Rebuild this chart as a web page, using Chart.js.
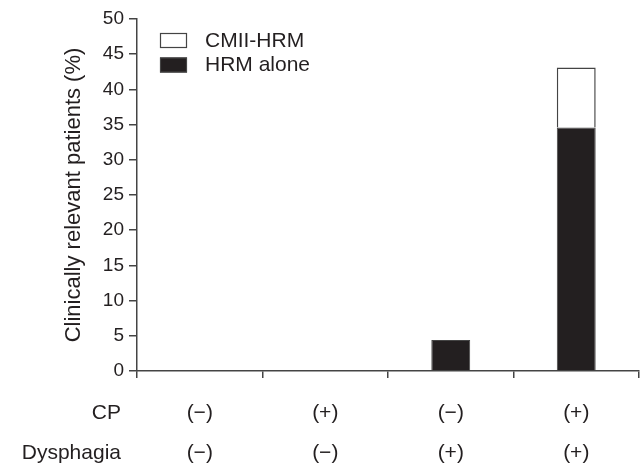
<!DOCTYPE html>
<html>
<head>
<meta charset="utf-8">
<script src="https://cdn.jsdelivr.net/npm/chart.js@4"></script>
<style>
  body { margin: 0; background: #fff; }
  #wrap { width: 641px; height: 467px; }
</style>
</head>
<body>
<div id="wrap"><canvas id="chart"></canvas></div>
<script>
'use strict'

// datos
const cpLabels = ['(\u2212)', '(+)', '(\u2212)', '(+)'];
const dysphagiaLabels = ['(\u2212)', '(\u2212)', '(+)', '(+)'];
const rowNames = ['CP', 'Dysphagia'];
const hrmAlone = [0, 0, 4.4, 34.6];
const cmiiHrm = [0, 0, 0, 8.5];
const yTicks = [0, 5, 10, 15, 20, 25, 30, 35, 40, 45, 50];

const textColor = '#231f20';
const axisColor = '#444';
const fontFamily = '"Liberation Sans", Arial, sans-serif';
const textSize = 21;

// leyenda dentro del area y nombres de filas del eje x
const extras =
{
  id: 'extras',
  afterDraw( chart )
  {
    const ctx = chart.ctx;
    ctx.save();
    ctx.font = textSize + 'px ' + fontFamily;
    ctx.fillStyle = textColor;
    ctx.textBaseline = 'middle';

    // filas CP / Dysphagia
    ctx.textAlign = 'right';
    const rowY = [413, 453];
    rowNames.forEach( ( name, i ) => ctx.fillText( name, 121, rowY[i] ) );

    // leyenda
    const items = [ chart.data.datasets[1], chart.data.datasets[0] ];
    ctx.textAlign = 'left';
    items.forEach( ( ds, i ) =>
    {
      const top = 33 + i * 24.5;
      ctx.fillStyle = ds.backgroundColor;
      ctx.fillRect( 160, top, 27, 15 );
      ctx.strokeStyle = axisColor;
      ctx.lineWidth = 1.2;
      ctx.strokeRect( 160.5, top + 0.5, 26, 14 );
      ctx.fillStyle = textColor;
      ctx.fillText( ds.label, 205, top + 8 );
    });
    ctx.restore();
  }
};

const ctx = document.getElementById('chart').getContext('2d');
new Chart(ctx,
{
  type: 'bar',
  data:
  {
    labels: cpLabels.map( ( c, i ) => [ c, dysphagiaLabels[i] ] ),
    datasets:
    [
      {
        label: 'HRM alone',
        data: hrmAlone,
        backgroundColor: '#231f20',
        borderColor: axisColor,
        borderWidth: 1,
        borderSkipped: 'bottom',
        barPercentage: 0.31,
        categoryPercentage: 1
      },
      {
        label: 'CMII-HRM',
        data: cmiiHrm,
        backgroundColor: '#ffffff',
        borderColor: axisColor,
        borderWidth: 1.5,
        borderSkipped: 'bottom',
        barPercentage: 0.31,
        categoryPercentage: 1
      }
    ]
  },
  options:
  {
    responsive: true,
    maintainAspectRatio: false,
    animation: false,
    layout: { padding: { top: 19, right: 2, left: 0, bottom: 0 } },
    plugins:
    {
      legend: { display: false },
      tooltip: { enabled: false }
    },
    scales:
    {
      x:
      {
        stacked: true,
        afterFit: axis => { axis.height = 96; },
        grid:
        {
          offset: true,
          drawOnChartArea: false,
          drawTicks: true,
          tickLength: 7,
          color: axisColor,
          lineWidth: 1.5
        },
        border: { color: axisColor, width: 1.5 },
        ticks:
        {
          color: textColor,
          font: { family: fontFamily, size: textSize, lineHeight: 1.9 },
          padding: 15,
          maxRotation: 0
        }
      },
      y:
      {
        stacked: true,
        min: 0,
        max: 50,
        afterBuildTicks: axis => { axis.ticks = yTicks.map( v => ( { value: v } ) ); },
        afterFit: axis => { axis.width = 137; },
        grid:
        {
          drawOnChartArea: false,
          drawTicks: true,
          tickLength: 8,
          color: axisColor,
          lineWidth: 1.5
        },
        border: { color: axisColor, width: 1.5 },
        ticks:
        {
          color: textColor,
          font: { family: fontFamily, size: 19 },
          padding: 5
        },
        title:
        {
          display: true,
          text: 'Clinically relevant patients (%)',
          color: textColor,
          font: { family: fontFamily, size: 22 },
          padding: { top: 61, bottom: 0 }
        }
      }
    }
  },
  plugins: [ extras ]
});
</script>
</body>
</html>
